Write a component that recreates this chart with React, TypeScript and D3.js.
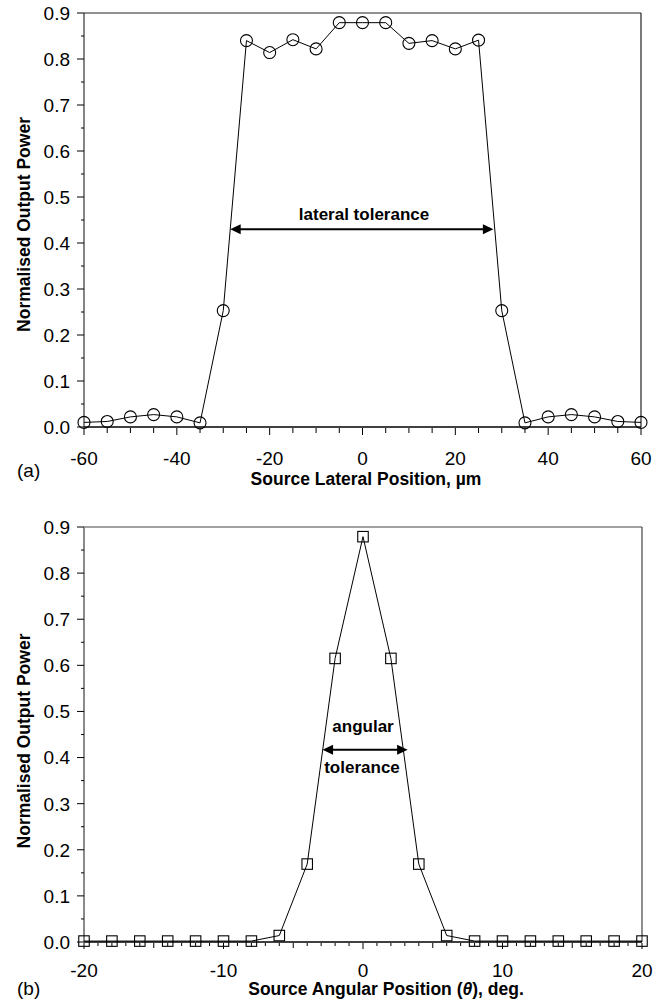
import React from "react";
import * as d3 from "d3";

// Panel (a): output power vs. lateral source offset (µm)
const lateralPos = [-60, -55, -50, -45, -40, -35, -30, -25, -20, -15, -10, -5, 0, 5, 10, 15, 20, 25, 30, 35, 40, 45, 50, 55, 60];
const lateralPower = [0.010, 0.012, 0.022, 0.027, 0.022, 0.009, 0.253, 0.840, 0.814, 0.842, 0.822, 0.879, 0.879, 0.879, 0.834, 0.840, 0.822, 0.841, 0.253, 0.009, 0.022, 0.027, 0.022, 0.012, 0.010];
const lateralXTicks = [-60, -40, -20, 0, 20, 40, 60];
const lateralTolerance = { from: -28.5, to: 28.2, level: 0.43 };

// Panel (b): output power vs. angular source position (deg)
const angularPos = [-20, -18, -16, -14, -12, -10, -8, -6, -4, -2, 0, 2, 4, 6, 8, 10, 12, 14, 16, 18, 20];
const angularPower = [0.002, 0.002, 0.002, 0.002, 0.002, 0.002, 0.002, 0.014, 0.169, 0.615, 0.879, 0.615, 0.169, 0.014, 0.002, 0.002, 0.002, 0.002, 0.002, 0.002, 0.002];
const angularXTicks = [-20, -10, 0, 10, 20];
const angularTolerance = { from: -2.9, to: 3.2, level: 0.417 };

const yTicks = [0, 0.1, 0.2, 0.3, 0.4, 0.5, 0.6, 0.7, 0.8, 0.9];
const yMinorTicks = [0.05, 0.15, 0.25, 0.35, 0.45, 0.55, 0.65, 0.75, 0.85];

const FONT = "'Liberation Sans', Arial, Helvetica, sans-serif";

function Arrow({ x1, x2, y }: { x1: number; x2: number; y: number }) {
  const L = 10.5;
  const H = 5;
  return (
    <g>
      <line x1={x1 + L - 1} x2={x2 - L + 1} y1={y} y2={y} stroke="#000" strokeWidth={2} />
      <path d={`M${x1},${y} L${x1 + L},${y - H} L${x1 + L},${y + H} Z`} fill="#000" />
      <path d={`M${x2},${y} L${x2 - L},${y - H} L${x2 - L},${y + H} Z`} fill="#000" />
    </g>
  );
}

export default function App() {
  // ---------- panel (a) ----------
  const xa = d3.scaleLinear().domain([-60, 60]).range([84, 641]);
  const ya = d3.scaleLinear().domain([0, 0.9]).range([427, 13]);
  const lineA = d3
    .line<number>()
    .x((_, i) => xa(lateralPos[i]))
    .y((d) => ya(d));
  const xaMinor = d3.range(-60, 61, 5);

  // ---------- panel (b) ----------
  const xb = d3.scaleLinear().domain([-20, 20]).range([84, 642]);
  const yb = d3.scaleLinear().domain([0, 0.9]).range([942, 527]);
  const lineB = d3
    .line<number>()
    .x((_, i) => xb(angularPos[i]))
    .y((d) => yb(d));
  const xbMinor = d3.range(-20, 21, 1);

  const sq = 10.5;

  return (
    <svg
      width={661}
      height={1000}
      style={{ position: "absolute", left: 0, top: 0, background: "#fff" }}
      fontFamily={FONT}
    >
      <rect width={661} height={1000} fill="#fff" />

      {/* ===== Panel (a) ===== */}
      <g>
        {/* frame */}
        <line x1={84} x2={641} y1={13} y2={13} stroke="#222" strokeWidth={1.2} />
        <line x1={641} x2={641} y1={13} y2={427} stroke="#222" strokeWidth={1.2} />
        <line x1={84} x2={84} y1={13} y2={427} stroke="#333" strokeWidth={1.2} />
        <line x1={84} x2={641} y1={427} y2={427} stroke="#000" strokeWidth={1.6} />

        {/* y ticks */}
        {yTicks.map((t) => (
          <g key={`ya${t}`}>
            <line x1={77} x2={84} y1={ya(t)} y2={ya(t)} stroke="#000" strokeWidth={1} />
            <text x={70} y={ya(t)} dy="0.36em" textAnchor="end" fontSize={19}>
              {t.toFixed(1)}
            </text>
          </g>
        ))}
        {yMinorTicks.map((t) => (
          <line key={`yam${t}`} x1={81} x2={84} y1={ya(t)} y2={ya(t)} stroke="#000" strokeWidth={1} />
        ))}

        {/* x ticks */}
        {xaMinor.map((t) => (
          <line
            key={`xam${t}`}
            x1={xa(t)}
            x2={xa(t)}
            y1={428}
            y2={t % 20 === 0 ? 435 : 433}
            stroke="#000"
            strokeWidth={1}
          />
        ))}
        {lateralXTicks.map((t) => (
          <text key={`xal${t}`} x={xa(t)} y={465} textAnchor="middle" fontSize={19}>
            {t}
          </text>
        ))}

        {/* data */}
        <path d={lineA(lateralPower) ?? ""} fill="none" stroke="#000" strokeWidth={1} />
        {lateralPower.map((v, i) => (
          <circle key={`ca${i}`} cx={xa(lateralPos[i])} cy={ya(v)} r={6} fill="none" stroke="#000" strokeWidth={1.1} />
        ))}

        {/* tolerance annotation */}
        <Arrow x1={xa(lateralTolerance.from)} x2={xa(lateralTolerance.to)} y={ya(lateralTolerance.level)} />
        <text x={364} y={220} textAnchor="middle" fontSize={17} fontWeight="bold">
          lateral tolerance
        </text>

        {/* titles */}
        <text
          transform="translate(29.5,224.5) rotate(-90)"
          textAnchor="middle"
          fontSize={17.5}
          fontWeight="bold"
        >
          Normalised Output Power
        </text>
        <text x={366} y={485} textAnchor="middle" fontSize={17.5} fontWeight="bold">
          Source Lateral Position, µm
        </text>
        <text x={17} y={477} fontSize={19}>
          (a)
        </text>
      </g>

      {/* ===== Panel (b) ===== */}
      <g>
        <line x1={84} x2={642} y1={527} y2={527} stroke="#444" strokeWidth={1.2} />
        <line x1={642} x2={642} y1={527} y2={942} stroke="#444" strokeWidth={1.2} />
        <line x1={84} x2={84} y1={527} y2={942} stroke="#8a8a8a" strokeWidth={2} />
        <line x1={84} x2={642} y1={942} y2={942} stroke="#000" strokeWidth={1.6} />

        {yTicks.map((t) => (
          <g key={`yb${t}`}>
            <line x1={77} x2={84} y1={yb(t)} y2={yb(t)} stroke="#000" strokeWidth={1} />
            <text x={70} y={yb(t)} dy="0.36em" textAnchor="end" fontSize={19}>
              {t.toFixed(1)}
            </text>
          </g>
        ))}
        {yMinorTicks.map((t) => (
          <line key={`ybm${t}`} x1={81} x2={84} y1={yb(t)} y2={yb(t)} stroke="#000" strokeWidth={1} />
        ))}

        {xbMinor.map((t) => (
          <line
            key={`xbm${t}`}
            x1={xb(t)}
            x2={xb(t)}
            y1={943}
            y2={t % 10 === 0 ? 949 : t % 5 === 0 ? 948 : 946}
            stroke="#000"
            strokeWidth={1}
          />
        ))}
        {angularXTicks.map((t) => (
          <text key={`xbl${t}`} x={xb(t)} y={977} textAnchor="middle" fontSize={19}>
            {t}
          </text>
        ))}

        <path d={lineB(angularPower) ?? ""} fill="none" stroke="#000" strokeWidth={1} />
        {angularPower.map((v, i) => (
          <rect
            key={`sb${i}`}
            x={xb(angularPos[i]) - sq / 2}
            y={yb(v) - sq / 2}
            width={sq}
            height={sq}
            fill="none"
            stroke="#000"
            strokeWidth={1.1}
          />
        ))}

        <Arrow x1={xb(angularTolerance.from)} x2={xb(angularTolerance.to)} y={yb(angularTolerance.level)} />
        <text x={363} y={732} textAnchor="middle" fontSize={17} fontWeight="bold">
          angular
        </text>
        <text x={362} y={773} textAnchor="middle" fontSize={17} fontWeight="bold">
          tolerance
        </text>

        <text
          transform="translate(29.5,741) rotate(-90)"
          textAnchor="middle"
          fontSize={17.5}
          fontWeight="bold"
        >
          Normalised Output Power
        </text>
        <text x={386} y={995} textAnchor="middle" fontSize={17.5} fontWeight="bold">
          Source Angular Position (<tspan fontStyle="italic">θ</tspan>), deg.
        </text>
        <text x={17} y={995} fontSize={19}>
          (b)
        </text>
      </g>
    </svg>
  );
}
